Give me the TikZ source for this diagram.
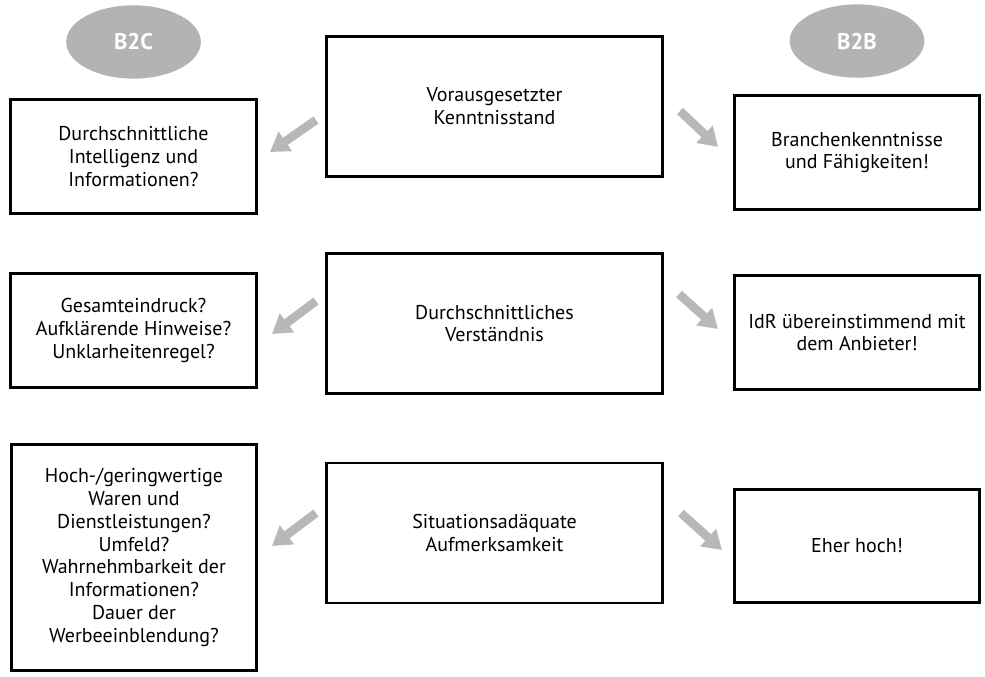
\documentclass[tikz,border=0pt]{standalone}
\usepackage{fontspec}
\setmainfont{PT Sans}
\usetikzlibrary{positioning,arrows.meta,shapes.geometric}

\definecolor{tagfill}{RGB}{179,179,179}
\definecolor{hintgray}{RGB}{184,184,184}

\begin{document}
\begin{tikzpicture}[x=0.75pt,y=-0.75pt,on grid,
	mainbox/.style={draw,line width=2.2pt,minimum width=252pt,minimum height=105pt,align=center,font=\fontsize{15}{17.2}\selectfont},
	sidebox/.style={draw,line width=2.2pt,minimum width=184pt,minimum height=85pt,align=center,font=\fontsize{15}{17.2}\selectfont},
	tag/.style={ellipse,fill=tagfill,minimum width=101pt,minimum height=55pt,text=white,font=\fontsize{17}{20}\selectfont\bfseries},
	hint/.style={draw=hintgray,line width=6.5pt,-{Triangle[width=17pt,length=14pt,fill=hintgray,color=hintgray]}}]
	\useasboundingbox (0,0) rectangle (985,676);
	\node[mainbox] (c1) at (494.5,106.5) {Vorausgesetzter\\Kenntnisstand};
	\node[sidebox] (l1) [below left=37.5pt and 270.75pt of c1] {Durchschnittliche\\Intelligenz und\\Informationen?};
	\node[sidebox] (r1) [below right=34.5pt and 271.9pt of c1] {Branchenkenntnisse\\und Fähigkeiten!};
	\node[tag] (b2c) [above=85.9pt of l1] {B2C};
	\node[tag] (b2b) [above=83.6pt of r1] {B2B};
	\node[mainbox] (c2) [below=162.75pt of c1] {Durchschnittliches\\Verständnis};
	\node[sidebox] (l2) [below left=5.25pt and 270.75pt of c2] {Gesamteindruck?\\Aufklärende Hinweise?\\Unklarheitenregel?};
	\node[sidebox] (r2) [below right=6.75pt and 271.9pt of c2] {IdR übereinstimmend mit\\dem Anbieter!};
	\node[mainbox] (c3) [below=157.1pt of c2] {Situationsadäquate\\Aufmerksamkeit};
	\node[sidebox,minimum height=169.5pt] (l3) [below left=18.4pt and 270.4pt of c3] {Hoch-/geringwertige\\Waren und\\Dienstleistungen?\\Umfeld?\\Wahrnehmbarkeit der\\Informationen?\\Dauer der\\Werbeeinblendung?};
	\node[sidebox] (r3) [below right=9.75pt and 271.9pt of c3] {Eher hoch!};
	\coordinate (l1tail) at (316,120);
	\coordinate (l1tip) at (270,152);
	\coordinate (r1tail) at (680,111);
	\coordinate (r1tip) at (718,147);
	\coordinate (l2tail) at (316,301);
	\coordinate (l2tip) at (272,334);
	\coordinate (r2tail) at (679,294);
	\coordinate (r2tip) at (718,329);
	\coordinate (l3tail) at (316,513);
	\coordinate (l3tip) at (272,546);
	\coordinate (r3tail) at (681,513);
	\coordinate (r3tip) at (722,550);
	\draw[hint] (l1tail) -- (l1tip);
	\draw[hint] (r1tail) -- (r1tip);
	\draw[hint] (l2tail) -- (l2tip);
	\draw[hint] (r2tail) -- (r2tip);
	\draw[hint] (l3tail) -- (l3tip);
	\draw[hint] (r3tail) -- (r3tip);
\end{tikzpicture}
\end{document}
